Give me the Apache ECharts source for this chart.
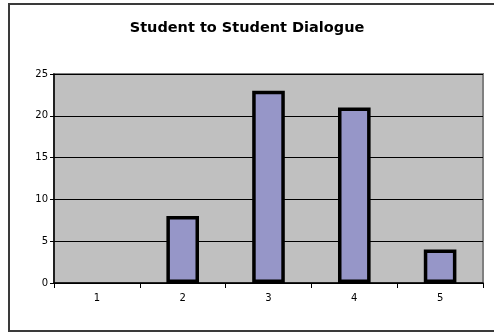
<!DOCTYPE html>
<html>
<head>
<meta charset="utf-8">
<script src="https://cdn.jsdelivr.net/npm/echarts@6/dist/echarts.min.js"></script>
<style>
  html, body { margin: 0; padding: 0; background: #ffffff; overflow: hidden; }
  #wrap { position: relative; width: 494px; height: 333px; overflow: hidden; }
  /* chart frame: left, top and bottom edges; the right edge runs past the page */
  #frame {
    position: absolute; left: 8px; top: 3px; width: 600px; height: 329px;
    box-sizing: border-box;
    border: 2px solid #3a3a3a; border-right: none;
  }
  #chart { position: absolute; left: 0; top: 0; width: 494px; height: 333px; }
</style>
</head>
<body>
<div id="wrap">
  <div id="frame"></div>
  <div id="chart"></div>
</div>
<script>
// Rating categories and how many responses each received
const categories = ['1', '2', '3', '4', '5'];
const counts = [0, 8, 23, 21, 4];
const yTicks = { min: 0, max: 25, interval: 5 };

// Zero-height bars get no outline so nothing is drawn for them
const barData = counts.map(v => (v === 0
  ? { value: v, itemStyle: { borderWidth: 0 } }
  : v));

const chart = echarts.init(document.getElementById('chart'), null, { renderer: 'canvas' });

chart.setOption({
  animation: false,
  backgroundColor: 'transparent',
  title: {
    text: 'Student to Student Dialogue',
    left: 'center',
    top: 16,
    textStyle: {
      fontFamily: 'DejaVu Sans',
      fontWeight: 'bold',
      fontSize: 14.5,
      color: '#000000'
    }
  },
  grid: {
    left: 54,
    right: 11,
    top: 74,
    bottom: 50,
    show: true,
    backgroundColor: '#C0C0C0',
    borderColor: '#808080',
    borderWidth: 2
  },
  xAxis: {
    type: 'category',
    data: categories,
    boundaryGap: true,
    axisLine: { show: true, lineStyle: { color: '#000000', width: 1.5 } },
    axisTick: { show: true, length: 5, lineStyle: { color: '#000000' } },
    axisLabel: {
      fontFamily: 'DejaVu Sans',
      fontSize: 10,
      color: '#000000',
      margin: 10
    },
    splitLine: { show: false }
  },
  yAxis: {
    type: 'value',
    min: yTicks.min,
    max: yTicks.max,
    interval: yTicks.interval,
    axisLine: { show: true, lineStyle: { color: '#000000', width: 1.5 } },
    axisTick: { show: true, length: 4, lineStyle: { color: '#000000' } },
    axisLabel: {
      fontFamily: 'DejaVu Sans',
      fontSize: 10,
      color: '#000000',
      margin: 6
    },
    splitLine: { show: true, lineStyle: { color: '#000000', width: 1 } }
  },
  series: [
    {
      type: 'bar',
      data: barData,
      barWidth: '38%',
      itemStyle: {
        color: '#9696C8',
        borderColor: '#000000',
        borderWidth: 3.5
      }
    }
  ]
});
</script>
</body>
</html>
